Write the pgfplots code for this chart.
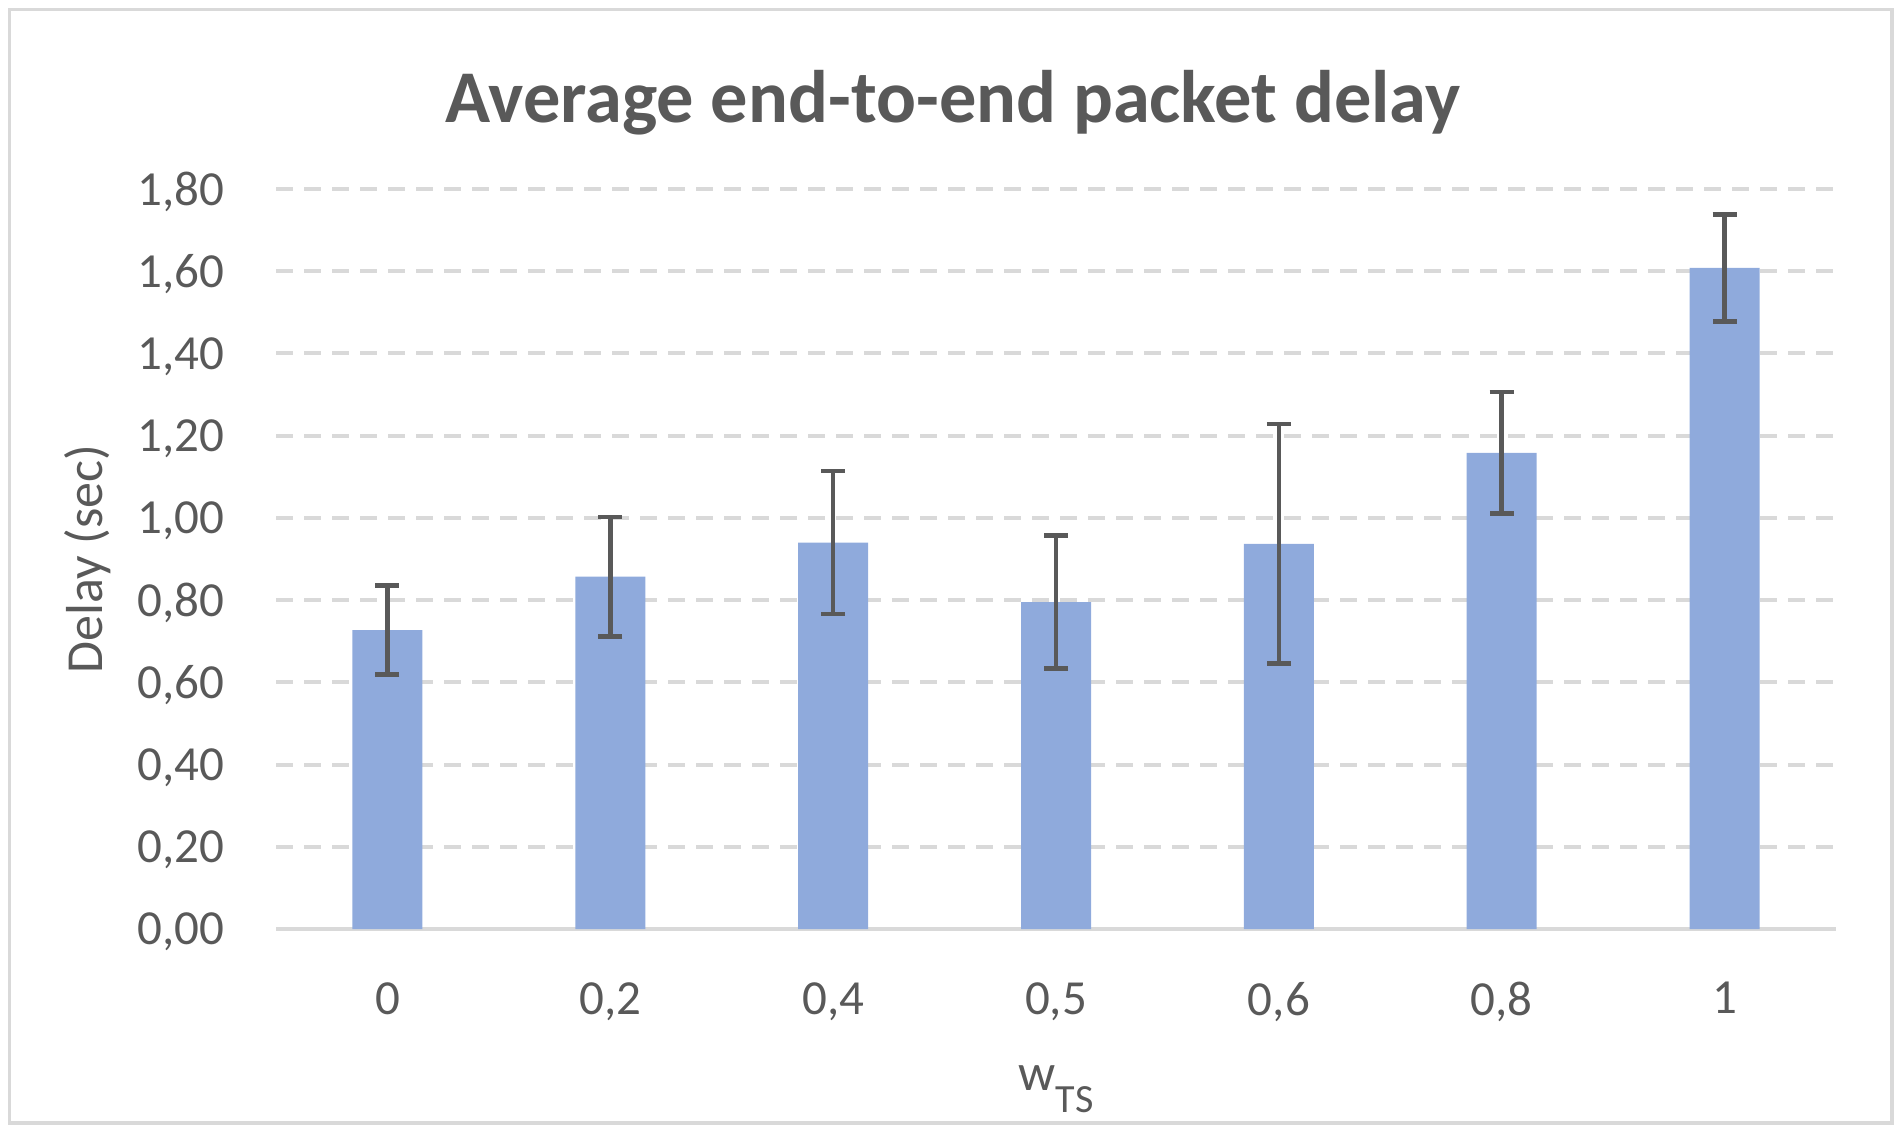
\documentclass[border=0pt]{standalone}
\usepackage{fontspec}
\setmainfont{Carlito}
\usepackage{pgfplots}
\pgfplotsset{compat=1.18}
\definecolor{txt}{HTML}{595959}
\definecolor{barc}{HTML}{8FAADC}
\definecolor{gridc}{HTML}{D9D9D9}
\newcommand\tickfont{\fontsize{24.5pt}{29pt}\selectfont}
\newcommand\labfont{\fontsize{26pt}{31pt}\selectfont}
\newcommand\titfont{\fontsize{37.2pt}{44pt}\selectfont\bfseries}
\begin{document}
\begin{tikzpicture}
\draw[gridc, line width=1.8pt] (4.75pt,7pt) rectangle (946pt,563.75pt);
\begin{axis}[
  at={(138pt,104pt)}, anchor=south west,
  scale only axis, width=780pt, height=370pt,
  xmin=-0.5, xmax=6.5, ymin=0, ymax=1.8,
  xtick={0,1,2,3,4,5,6},
  xticklabels={0,{0,2},{0,4},{0,5},{0,6},{0,8},1},
  ytick={0,0.2,0.4,0.6,0.8,1,1.2,1.4,1.6,1.8},
  /pgf/number format/.cd, fixed, fixed zerofill, precision=2, use comma, assume math mode=true,
  /pgfplots/.cd,
  axis x line*=bottom, axis y line*=left,
  x axis line style={draw=gridc, line width=2pt, -},
  y axis line style={draw=none},
  major tick length=0pt,
  tick style={draw=none},
  ymajorgrids,
  major grid style={draw=gridc, line width=2pt, dash pattern=on 8.3pt off 5.7pt},
  yticklabel style={font=\tickfont, text=txt, anchor=east, inner sep=0pt, text depth=0pt, xshift=-25.5pt},
  xticklabel style={font=\tickfont, text=txt, anchor=north, inner sep=0pt, yshift=-26.5pt},
  ylabel={Delay (sec)},
  ylabel style={font=\labfont, text=txt, at={(axis description cs:-0.1109,0.5)}, anchor=base, inner sep=0pt},
  xlabel={w\raisebox{-11pt}{\fontsize{20pt}{24pt}\selectfont TS}},
  xlabel style={font=\labfont, text=txt, at={(axis description cs:0.5,-0.2176)}, anchor=base, inner sep=0pt},
  every axis title shift=0pt,
  title={Average end-to-end packet delay},
  title style={font=\titfont, text=txt, at={(axis description cs:0.434,1.0905)}, anchor=base, inner sep=0pt},
  ybar, bar width=35pt,
]
\addplot[fill=barc, draw=none,
  error bars/.cd, y dir=both, y explicit,
  error bar style={line width=2.3pt, color=txt},
  error mark options={line width=2.3pt, color=txt, mark size=6pt, rotate=90}]
  table[x=x, y=y, y error=e] {
x y e
0 0.727 0.108
1 0.857 0.145
2 0.940 0.174
3 0.795 0.162
4 0.937 0.291
5 1.158 0.148
6 1.608 0.130
};
\end{axis}
\pgfresetboundingbox
\path (0,0) rectangle (952pt,568.5pt);
\end{tikzpicture}
\end{document}
